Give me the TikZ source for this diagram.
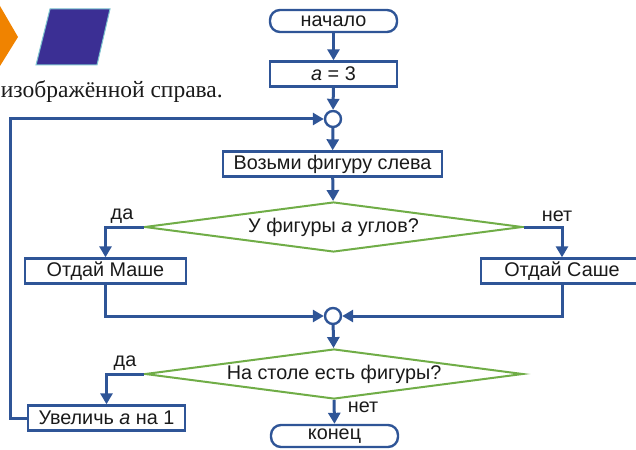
\documentclass[tikz,border=0pt]{standalone}
\usepackage{fontspec}
\setmainfont{Liberation Sans}
\newfontfamily\serifru{Liberation Serif}
\usetikzlibrary{shapes.geometric,arrows.meta}
\definecolor{fblue}{HTML}{2F5597}
\definecolor{fgreen}{HTML}{70AD47}
\definecolor{ftext}{HTML}{1A1A1A}
\definecolor{forange}{HTML}{F08300}
\definecolor{fpurple}{HTML}{3B2F94}
\definecolor{fcyan}{HTML}{7CC3CF}
\tikzset{
  every node/.style={text=ftext, font=\fontsize{19.8}{23}\selectfont},
  procbox/.style={draw=fblue, line width=2.4pt, fill=white, rectangle, minimum height=25pt, inner sep=0pt},
  termbox/.style={draw=fblue, line width=2.4pt, fill=white, rectangle, rounded corners=10pt, minimum height=22pt, minimum width=127pt, inner sep=0pt},
  decbox/.style={draw=fgreen, line width=2pt, diamond, aspect=7.5, minimum width=378pt, minimum height=50pt, inner sep=0pt},
  joinc/.style={draw=fblue, line width=2.4pt, fill=white, circle, minimum size=16pt, inner sep=0pt},
  arr/.style={draw=fblue, line width=3pt, -{Triangle[length=11pt,width=12pt]}},
  lbl/.style={inner sep=0pt}
}
\begin{document}
\begin{tikzpicture}[x=1pt,y=-1pt]
\useasboundingbox (0,0) rectangle (636,449);
% top-left decoration
\fill[forange] (0,6) -- (18,37) -- (0,66) -- cycle;
\draw[fill=fpurple, draw=fcyan, line width=1pt] (50,9) -- (110,9) -- (97,65) -- (36,65) -- cycle;
\node[anchor=base east, inner sep=0pt, font=\serifru\fontsize{23.5}{28}\selectfont] (txt) at (223,98) {изображённой справа.};
% flowchart
\node[termbox] (start) at (333.5,21) {начало};
\node[procbox, minimum width=127pt] (init) at (333.5,74) {\textit{a} = 3};
\node[joinc] (c1) at (333,119) {};
\node[procbox, minimum width=219pt] (take) at (332.5,164) {Возьми фигуру слева};
\node[decbox] (d1) at (333.5,227) {У фигуры \textit{a} углов?};
\node[procbox, minimum width=161pt] (masha) at (105.5,271) {Отдай Маше};
\node[procbox, minimum width=162pt] (sasha) at (562,271) {Отдай Саше};
\node[joinc] (c2) at (333,316) {};
\node[decbox] (d2) at (334,374) {На столе есть фигуры?};
\node[procbox, minimum width=157pt] (inc) at (106.5,418) {Увеличь \textit{a} на 1};
\node[termbox] (stop) at (334.5,436) {конец};
\coordinate (loopc) at (10,119);
\node[lbl] (yes1) at (122,216) {да};
\node[lbl] (no1) at (557,216) {нет};
\node[lbl] (yes2) at (125,363) {да};
\node[lbl] (no2) at (363,407) {нет};
% connectors
\draw[arr] (start) -- (init);
\draw[arr] (init) -- (c1);
\draw[arr] (c1) -- (take);
\draw[arr] (take) -- (d1);
\draw[arr] (d1.west) -| (masha.north);
\draw[arr] (d1.east) -| (sasha.north);
\draw[arr] (masha.south) |- (c2.west);
\draw[arr] (sasha.south) |- (c2.east);
\draw[arr] (c2) -- (d2);
\draw[arr] (d2.west) -| (inc.north);
\draw[arr] (d2.south) -- (stop.north);
\draw[arr] (inc.west) -| (loopc) -- (c1.west);
\end{tikzpicture}
\end{document}
